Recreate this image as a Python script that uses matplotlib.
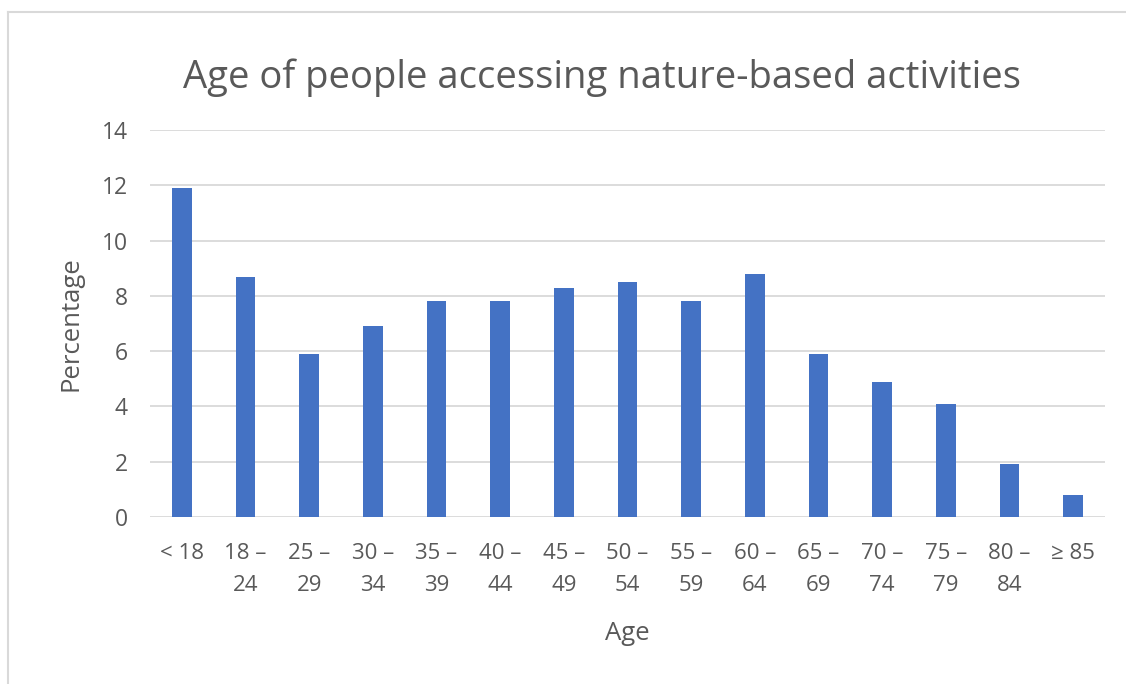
import matplotlib.pyplot as plt
from matplotlib.lines import Line2D

# age groups and share of people (percent)
ages = ["< 18", "18 –\n24", "25 –\n29", "30 –\n34", "35 –\n39", "40 –\n44",
        "45 –\n49", "50 –\n54", "55 –\n59", "60 –\n64", "65 –\n69",
        "70 –\n74", "75 –\n79", "80 –\n84", "≥ 85"]
percent = [11.9, 8.7, 5.9, 6.9, 7.8, 7.8, 8.3, 8.5, 7.8, 8.8, 5.9, 4.9, 4.1, 1.9, 0.8]
yticks = [0, 2, 4, 6, 8, 10, 12, 14]

plt.rcParams['font.family'] = ['Open Sans', 'DejaVu Sans']
grey = "#595959"

W, H = 1126, 684
fig = plt.figure(figsize=(W/100, H/100), dpi=100)
# chart frame: only top and left edges show in the screenshot
fig.lines.append(Line2D([8/W, 1], [1-12/H, 1-12/H], transform=fig.transFigure,
                        color="#D9D9D9", linewidth=1.5))
fig.lines.append(Line2D([8/W, 8/W], [0, 1-12/H], transform=fig.transFigure,
                        color="#D9D9D9", linewidth=1.5))

ax = fig.add_axes([150/W, 1-517/H, 955/W, 387/H])
x = range(len(ages))
ax.bar(x, percent, width=0.31, color="#4472C4", zorder=3)

ax.set_xlim(-0.5, len(ages) - 0.5)
ax.set_ylim(0, 14)
ax.set_yticks(yticks)
ax.set_xticks(list(x))
ax.set_xticklabels(ages, fontsize=16, color=grey, linespacing=1.65)
ax.tick_params(axis='y', labelsize=16.5, labelcolor=grey, length=0, pad=16)
ax.tick_params(axis='x', length=0, pad=19)
ax.grid(axis='y', color="#D9D9D9", linewidth=1.3, zorder=0)
for s in ["top", "right", "left", "bottom"]:
    ax.spines[s].set_visible(False)

ax.set_ylabel("Percentage", fontsize=18.5, color=grey, labelpad=13)
ax.set_xlabel("Age", fontsize=18.5, color=grey, labelpad=18)
fig.text(602/W, 1-78/H, "Age of people accessing nature-based activities",
         ha="center", va="center", fontsize=27.5, color=grey)

fig.savefig("out.png", dpi=100, facecolor="white")
